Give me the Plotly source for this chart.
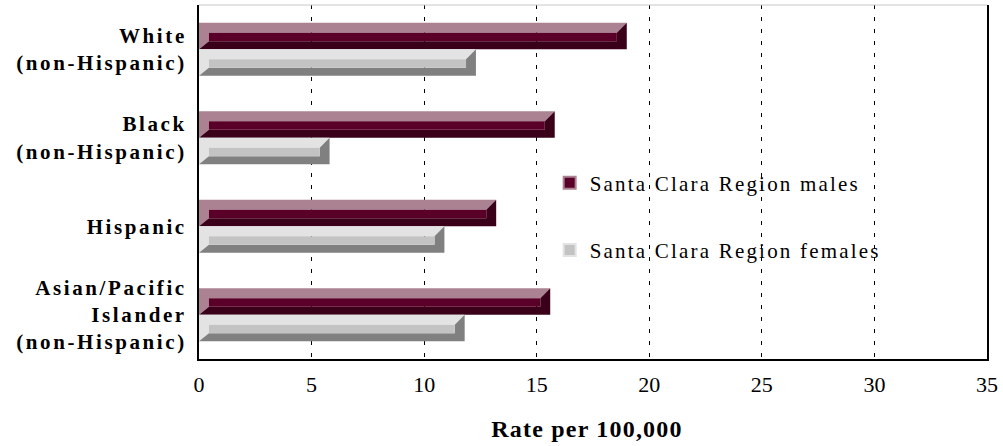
import plotly.graph_objects as go

# ---- data ----
categories = ["White<br>(non-Hispanic)", "Black<br>(non-Hispanic)", "Hispanic",
              "Asian/Pacific<br>Islander<br>(non-Hispanic)"]
males = [19.0, 15.8, 13.2, 15.6]
females = [12.3, 5.8, 10.9, 11.8]
series_names = ["Santa Clara Region males", "Santa Clara Region females"]
x_ticks = [0, 5, 10, 15, 20, 25, 30, 35]
x_title = "Rate per 100,000"

# ---- style ----
MALE_COLORS = ("#AB8291", "#5A0028", "#3A001A")      # light, front, dark
FEMALE_COLORS = ("#E3E3E3", "#C3C3C3", "#808080")
BAR_H = 0.3      # category units
DX = 0.44        # bevel depth, x data units
TOP = 0.113      # top bevel, category units
BOT = 0.09       # bottom bevel, category units
SERIF = "Liberation Serif, Times New Roman, serif"

fig = go.Figure()


def add_bevel_bar(v, y0, colors):
    light, front, dark = colors
    y1 = y0 + BAR_H
    polys = [
        (light, [0, v, v - DX, DX, DX, 0, 0],
         [y0, y0, y0 + TOP, y0 + TOP, y1 - BOT, y1, y0]),
        (dark, [0, v, v, v - DX, v - DX, DX, 0],
         [y1, y1, y0, y0 + TOP, y1 - BOT, y1 - BOT, y1]),
        (front, [DX, v - DX, v - DX, DX, DX],
         [y0 + TOP, y0 + TOP, y1 - BOT, y1 - BOT, y0 + TOP]),
    ]
    for col, xs, ys in polys:
        fig.add_trace(go.Scatter(x=xs, y=ys, mode="lines", fill="toself",
                                 fillcolor=col, line=dict(width=0, color=col),
                                 hoverinfo="skip", showlegend=False))


for i, (m, f) in enumerate(zip(males, females)):
    add_bevel_bar(m, i - BAR_H, MALE_COLORS)
    add_bevel_bar(f, i, FEMALE_COLORS)

# legend entries
for name, cols in zip(series_names, [MALE_COLORS, FEMALE_COLORS]):
    fig.add_trace(go.Scatter(x=[None], y=[None], mode="markers", name=name,
                             legendgroup=name,
                             marker=dict(symbol="square", size=14, color=cols[1],
                                         line=dict(color=cols[0], width=2))))

fig.update_layout(
    width=1003, height=446,
    margin=dict(l=199, r=13, t=5, b=87),
    paper_bgcolor="white", plot_bgcolor="white",
    font=dict(family=SERIF, color="black"),
    showlegend=True,
    legend=dict(x=0.445, y=0.555, xanchor="left", yanchor="top",
                bgcolor="rgba(0,0,0,0)", font=dict(size=21, family=SERIF),
                tracegroupgap=37, itemsizing="constant"),
    xaxis=dict(range=[0, 35], tickvals=x_ticks, ticks="", showline=True,
               linecolor="black", linewidth=2, mirror=False,
               showgrid=True, gridcolor="black", gridwidth=1, griddash="4px,8px",
               zeroline=False, tickfont=dict(size=22, family=SERIF),
               ticklabelstandoff=5,
               title=dict(text="<b>" + x_title + "</b>", font=dict(size=24, family=SERIF),
                          standoff=24)),
    yaxis=dict(range=[3.5, -0.5], tickvals=list(range(len(categories))),
               ticktext=["<b>" + c + "</b>" for c in categories], ticks="",
               showline=True, linecolor="black", linewidth=2, mirror=True,
               showgrid=False, zeroline=False,
               tickfont=dict(size=21, family=SERIF), ticklabelstandoff=6),
    shapes=[dict(type="line", xref="paper", yref="paper", x0=0, x1=1, y0=1, y1=1,
                 line=dict(color="#C8C8C8", width=1))],
)

# wider letter spacing, as in the reference typography
css = (".ytick text{letter-spacing:2.6px;}"
       ".legendtext{letter-spacing:2.2px;}"
       ".legend .scrollbox{clip-path:none !important;}"
       ".xtitle{letter-spacing:1.2px;transform:translateX(-6px);}")
post = ("var s=document.createElement('style');s.textContent='" + css + "';"
        "document.head.appendChild(s);")

fig.write_html("out.html", post_script=post)
